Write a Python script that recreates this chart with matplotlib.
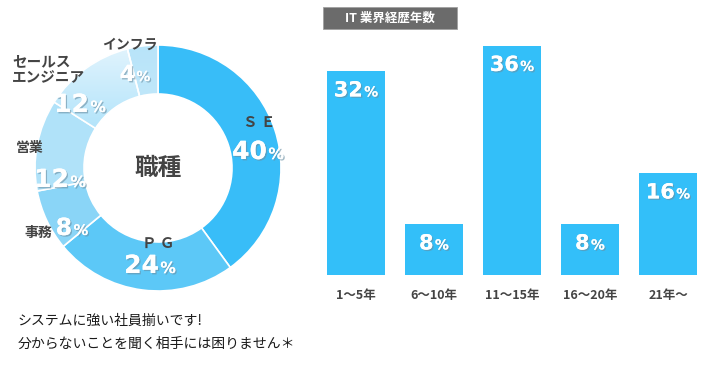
import numpy as np
import matplotlib
matplotlib.use("Agg")
import matplotlib.pyplot as plt
import matplotlib.patheffects as pe
from matplotlib.offsetbox import TextArea, HPacker, AnnotationBbox

plt.rcParams['font.family'] = ['Noto Sans CJK JP', 'DejaVu Sans']

# donut data (clockwise from top)
jobs = ["Ｓ Ｅ", "Ｐ Ｇ", "事務", "営業", "セールス\nエンジニア", "インフラ"]
job_share = [40, 24, 8, 12, 12, 4]
job_colors = ["#38bdf8", "#5cc8f7", "#8ad5f7", "#b0e2f9", "#8fd6f7", "#c6e9fa"]

# bar data
years = ["1～5年", "6～10年", "11～15年", "16～20年", "21年～"]
year_share = [32, 8, 36, 8, 16]
bar_color = "#33bff9"

W, H = 708, 372
fig = plt.figure(figsize=(W / 100, H / 100), dpi=100)
fig.patch.set_facecolor("white")


def px_axes(x0, y0, x1, y1):
    # pixel box (top-left origin) -> figure axes
    return fig.add_axes([x0 / W, 1 - y1 / H, (x1 - x0) / W, (y1 - y0) / H])


def pct_label(ax, num, xy, big, small, offset=(0, 0)):
    shadow = [pe.withSimplePatchShadow(offset=(1, -1), shadow_rgbFace="#6a8fa3", alpha=0.6), pe.Normal()]
    t1 = TextArea(num, textprops=dict(color="white", fontsize=big, fontweight="bold",
                                       family="DejaVu Sans", path_effects=shadow))
    t2 = TextArea("%", textprops=dict(color="white", fontsize=small, fontweight="bold",
                                      family="DejaVu Sans", path_effects=shadow))
    box = HPacker(children=[t1, t2], align="baseline", pad=0, sep=1)
    ab = AnnotationBbox(box, xy, xybox=offset, boxcoords="offset points",
                        frameon=False, box_alignment=(0.5, 0.5), annotation_clip=False)
    ax.add_artist(ab)


# ---------------- donut ----------------
cx, cy = 158, 168
R, r_in = 123, 74
ax1 = px_axes(cx - 158, cy - 158, cx + 158, cy + 158)
wedges, _ = ax1.pie(job_share, colors=job_colors, startangle=90, counterclock=False,
                    radius=R, wedgeprops=dict(width=R - r_in, edgecolor="white", linewidth=1.2))

# gradient fill for the sales-engineer and infra slices
grad = np.linspace(0, 1, 256).reshape(-1, 1)
for idx, (c_top, c_bot) in [(4, ("#e2f4fd", "#55c4f5")), (5, ("#b8e4f9", "#dcf2fc"))]:
    cmap = matplotlib.colors.LinearSegmentedColormap.from_list("g", [c_bot, c_top])
    im = ax1.imshow(grad, cmap=cmap, extent=(-R, R, -R, R), origin="lower",
                    aspect="auto", zorder=wedges[idx].get_zorder() + 0.1)
    im.set_clip_path(wedges[idx])
    wedges[idx].set_facecolor("none")
    wedges[idx].set_zorder(wedges[idx].get_zorder() + 0.2)
ax1.set_xlim(-158, 158)
ax1.set_ylim(-158, 158)
ax1.set_aspect("equal")
ax1.axis("off")

# label placement (offsets from ring centre, in pixels)
pct_xy = [(100, 16), (-8, -98), (-86, -60), (-98, -12), (-78, 63), (-23, 93)]
pct_size = [18, 18, 17, 18, 18, 16]
name_xy = [(101, 46), (0, -75), (-120, -65), (-128, 20), (-146, 99), (-28, 123)]
name_size = [10.5, 10.5, 10, 10, 10.5, 10]
name_ha = ["center", "center", "center", "center", "left", "center"]

for i in range(len(jobs)):
    pct_label(ax1, str(job_share[i]), pct_xy[i], pct_size[i], pct_size[i] * 0.62)
    ax1.text(name_xy[i][0], name_xy[i][1], jobs[i], fontsize=name_size[i], ha=name_ha[i],
             va="center", color="#444444", fontweight="bold", linespacing=0.95)
ax1.text(0, 0, "職種", fontsize=17, ha="center", va="center", color="#444444", fontweight="bold")

# ---------------- bars ----------------
base_px = 275
unit = 6.375
ax2 = px_axes(317, 35, 707, base_px)
x = np.arange(len(years))
ax2.bar(x, year_share, width=0.74, color=bar_color)
ax2.set_xlim(-0.5, len(years) - 0.5)
ax2.set_ylim(0, (base_px - 35) / unit)
for s in ax2.spines.values():
    s.set_visible(False)
ax2.set_yticks([])
ax2.set_xticks(x)
ax2.set_xticklabels(years, fontsize=9, color="#444444", fontweight="bold")
ax2.tick_params(axis="x", length=0, pad=10)
for i, v in enumerate(year_share):
    pct_label(ax2, str(v), (i, v), 15, 10, offset=(0, -14))

# title box
fig.patches.append(matplotlib.patches.Rectangle((323 / W, 1 - 29 / H), 134 / W, 22 / H,
                                                transform=fig.transFigure, facecolor="#6b6b6b",
                                                edgecolor="#a0a0a0", linewidth=0.6, zorder=0))
fig.text(390 / W, 1 - 18 / H, "IT 業界経歴年数", fontsize=9, color="white", fontweight="bold",
         ha="center", va="center")

# bottom note
fig.text(18 / W, 1 - 321 / H, "システムに強い社員揃いです!", fontsize=10, color="#1a1a1a",
         ha="left", va="center")
fig.text(18 / W, 1 - 344 / H, "分からないことを聞く相手には困りません＊", fontsize=10,
         color="#1a1a1a", ha="left", va="center")

fig.savefig("out.png", dpi=100, facecolor="white")
